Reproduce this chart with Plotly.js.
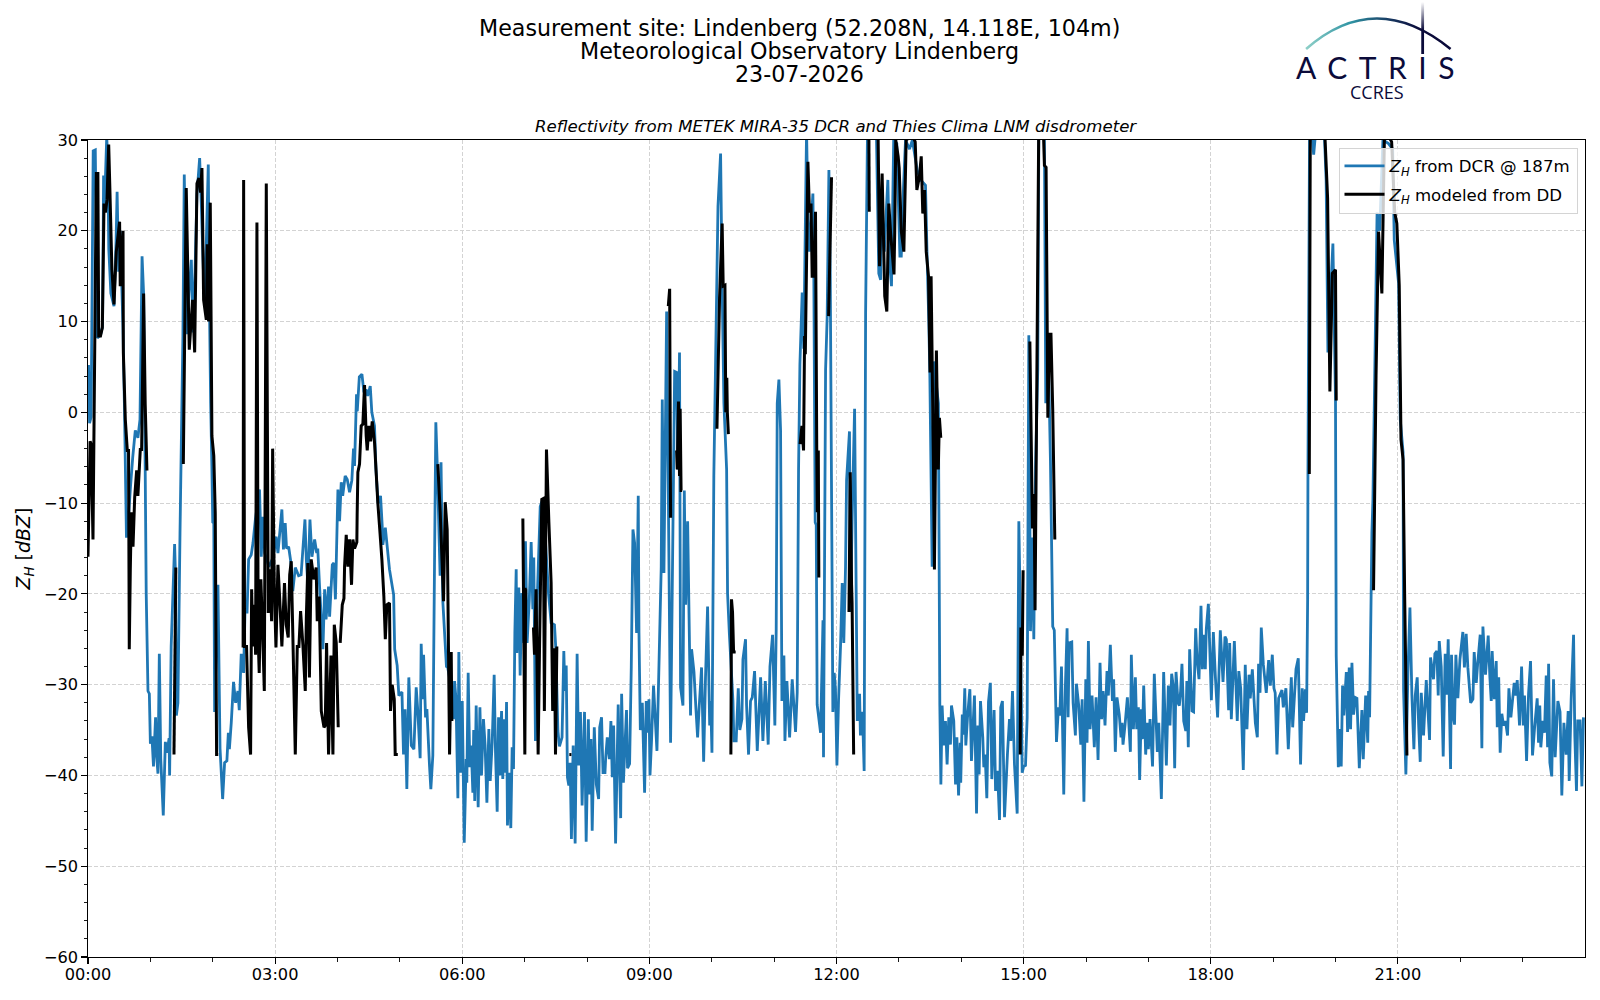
<!DOCTYPE html>
<html>
<head>
<meta charset="utf-8">
<script src="https://cdn.plot.ly/plotly-3.0.1.min.js"></script>
<style>html,body{margin:0;padding:0;background:#fff}#chart{width:1600px;height:1000px}</style>
</head>
<body>
<div id="chart"></div>
<script>
// Each pair is [minutes after midnight, reflectivity in dBZ].
const dcrNight = [[0,1],[0.5,5.2],[1.5,-1.2],[3,-0.5],[5,28.8],[7,28.9],[9,8.2],[12,8.5],[14,9.5],[15,26.1],[16,23],[18,30.3],[19,28],[20,18],[22,13.1],[25,11.7],[27,18.8],[28,24.3],[29.5,15.5],[31,20],[32,16],[33.6,9.5],[35,1],[37,-13.8],[39,-11.5],[41,-8],[43,-5],[45.5,-2],[48,-2.8],[50,-0.8],[52,17.2],[53.5,13],[55,-6],[56,-20],[57.7,-30.7],[59,-31],[60,-36.5],[61.5,-35.7],[63,-39],[65,-33.6],[66,-37.8],[67.3,-39.8],[68.6,-26.6],[70,-38.2],[72.4,-44.4],[74.4,-36.3],[76,-37.5],[78,-35.9],[78.5,-40],[80,-25.8],[83.3,-14.5],[84,-17.3],[85,-33.4],[86.5,-32],[88.5,-13.3],[91.3,8.4],[92.6,26.2],[95,8.6],[97,13],[99.4,16.8],[101,8.8],[103,15.7],[104.8,24],[107.4,28],[109,23],[110.6,17],[112,12.4],[113.8,18.6],[115.7,27.3],[117,10.2],[118,1],[119.2,-6.3],[120,-12.1],[121,-12.2],[121.8,-33],[125,-19],[127,-37],[129.5,-42.6],[131.4,-38.6],[133.6,-38.4],[135,-35.3],[136,-37.1],[137.8,-34.2],[140,-29.7],[142,-32],[144.2,-30.7],[145.5,-32.8],[147.4,-26.6],[149.7,-28.7],[151,-22],[153,-22],[154.5,-16.2],[157,-15.7],[158.7,-14.4],[161,-11.8],[165,-8.5],[166.7,-15.9],[168,-11.5],[170,-15.5],[174,-17],[178,-16],[181,-13.7],[182.7,-15.5],[186.5,-10.7],[188,-15.1],[189.7,-12.2],[191,-15],[193,-14.8],[195,-16.4],[197,-19.7],[199.4,-17.1],[202.6,-18],[205,-17.9],[208.7,-11.8],[210,-16.2],[211.5,-19],[213.5,-11.8],[215.4,-15.9],[218,-14],[220,-15.5],[221,-15],[222.8,-19.3],[226,-26.1],[227.6,-19.5],[229,-22.8],[231.4,-19.2],[232.4,-22.5],[235,-16.8],[236.5,-16.6],[238,-20.6],[240.4,-8.5],[242,-12],[243.6,-7.7],[245,-9.2],[247.4,-7],[249.4,-7.4],[251.6,-8.8],[253.8,-7.5],[255.4,-4],[256.4,-5.9],[258.3,2],[259,0.1],[261,3.9],[263.5,4.2],[265.4,2.2],[267.6,2.5],[269,1.8],[271.5,2.9],[273,0],[275.6,-1.5],[277,-6.3],[279,-10],[281.4,-9.2],[283,-12.5],[283.6,-14.6],[286,-12.7],[290,-17.3],[294,-20.1],[295,-26.1],[297.4,-27.9],[299,-31.2],[302,-30.8],[303.5,-37.7],[305,-32.7],[306.7,-41.5],[308.6,-29.2],[311,-36.7],[313.5,-37.1],[315.7,-30.3],[317.3,-33],[319.5,-38.1],[320.5,-25.5],[322,-31.6],[322.8,-26.7],[324.7,-33.6],[326,-32.7],[328.5,-38.9],[329.8,-41.5],[331.7,-37.8],[333.3,-17],[334.6,-1.1],[336,-6],[338.7,-18],[339.6,-5.5],[341.3,-20.8],[344.8,-28],[346,-28.1],[349,-30],[351.6,-33.8],[352.6,-29.6],[354,-31.6],[355.8,-42.5],[356.7,-26.4],[358.3,-39.7],[360,-31.8],[361.9,-47.4],[363.8,-38.2],[364.4,-40.8],[365.7,-28.7],[367.3,-39.1],[368.6,-36.7],[370.2,-41.9],[371,-35],[372,-42.8],[373.4,-32.3],[375.3,-43.5],[377,-32.5],[378.5,-40],[380.4,-33.8],[382,-36.7],[383.7,-43],[385.6,-34.9],[386.9,-40.6],[388.8,-36.4],[390.7,-28.9],[392,-37.5],[393.6,-44],[394.9,-33.6],[396.2,-40],[397.8,-32.9],[399,-40.4],[400.3,-33.8],[401.6,-39.7],[402.6,-31.9],[403.5,-45.5],[405,-39.7],[406.7,-45.8],[408,-36.9],[409.3,-39.3],[410.6,-24.3],[411.9,-17.3],[412.5,-26.5],[414.4,-19.3],[415.7,-29],[417.3,-19.9],[419.2,-25.4],[420.8,-14.2],[422.4,-25.4],[424.5,-20.6],[426.3,-14.3],[427.9,-21.7],[428.8,-16],[430.4,-36.2],[432,-21],[435,-10.4],[436,-10],[437.5,-9.6],[441,-16],[443,-20],[445.5,-23.2],[448.7,-23.4],[450,-26],[452,-35.1],[453.5,-36.8],[456,-35.8],[457.7,-26.3],[458.7,-30.7],[460,-27.9],[461.2,-40.2],[462.5,-41.1],[463.8,-38.6],[465,-47],[466.7,-36.7],[468.6,-47.5],[470.5,-26.6],[472,-38.9],[473.7,-33],[475.3,-43.3],[477.6,-33],[479.2,-47.3]];
const dcrMorning = [[481.3,-33.8],[482.5,-42.1],[483.8,-36],[485,-46.1],[487,-34.7],[489,-41],[491.2,-42.6],[492.2,-34.7],[494,-33.6],[495.4,-39.7],[497.3,-39.7],[498,-38],[499.5,-35.8],[501.5,-38.2],[503,-34],[504.3,-40.2],[505.6,-34.5],[507.5,-47.5],[510,-32.2],[512.4,-44.7],[513.3,-31],[515,-40.8],[518,-32.8],[519,-39.2],[521,-38.7],[522.6,-28],[524.2,-12.9],[525.8,-14.4],[527.7,-24.3],[529.3,-9.2],[530,-24.3],[531.3,-35],[533.2,-32],[535.4,-41.9],[537,-31.8],[538.3,-35.3],[539.6,-31.6],[540.6,-40],[542,-36.4],[544,-30.1],[547.3,-37.3],[549,-29],[551.4,-17],[552.4,1.4],[554,-17.7],[556.6,11.1],[558,-6],[560.4,-36.4],[564.3,4.5],[566.2,4.4],[567.5,-6.3],[569,6.6],[570,-30.3],[572.3,-32.3],[573.6,-8.6],[574.9,-21.2],[576.8,-12],[578,-21.2],[579.6,-33.4],[580.6,-26.1],[582.9,-28.6],[584.8,-32.7],[586.4,-35.8],[587.7,-32.9],[590.2,-28.1],[592.2,-38.5],[594,-29.2],[596,-21.4],[598,-34.5],[599,-31.8],[600.2,-37.5],[602,-7],[606,22.7],[608.5,28.5],[610,13.9],[611.7,1],[614.3,-6.3],[615.2,-19.9],[617,-24.5],[620.4,-31.8],[621.3,-36.2],[623.5,-36.2],[625.5,-30.4],[627,-35],[629,-33.8],[630,-27.2],[632.5,-25],[633.5,-32.3],[635.4,-37.7],[637.3,-31.8],[639,-31.4],[641.2,-28.5],[643.8,-37.3],[647,-29.2],[649.2,-36.2],[651.5,-29.6],[654.3,-36.6],[656,-28],[658.5,-24.5],[660.7,-34.5],[662,-24],[663,1],[664.6,3.6],[666.2,-2],[667.5,-31.8],[669.4,-26.8],[670.4,-36.2],[672.3,-29.6],[674.9,-35.8],[677.4,-29.4],[680.6,-35.2],[682.2,-30.9],[683.5,-6.3],[684.8,5.3],[687,13.2],[688.5,7],[691.2,31],[692.5,22],[694,17.7],[697.3,24.1],[698.2,15],[699.5,-12.1],[700.5,-12.4],[701.4,-32.2],[704.7,-35.3],[707,-22.9],[707.5,-38],[709.5,4.7],[711,10.4],[712.7,26.7],[714,15],[716.5,-33],[717.8,-28.7],[719,-30.5],[720.4,-38.9],[722,-31.6],[723.9,-25.7],[725.5,-18.8],[727,-25.4],[728.7,-17],[729.7,-7.5],[732.5,-2.1],[733.5,-22],[735,-12],[737.4,0.4],[740,-34],[742.2,-31],[743,-35.6],[745,-33],[746.6,-39.5],[748,11],[750,33],[753,34],[758.5,30],[760.7,15.3],[762.5,14.6],[763.5,23],[766,17.7],[769.4,25.6],[771,16.6],[772.9,13.9],[775,30],[778,29.6],[781,17.2],[782.3,17.2],[784.5,24.9],[786.4,30],[790.2,29],[793,30],[797.6,26.7],[801,25.6],[805.6,25],[807,17.9],[808.8,9.9],[809.8,4],[812,-17],[813.6,5.6],[818,1],[819.4,-32.3],[820.4,-41],[821.6,-32.3],[823.2,-36.7],[824.8,-34],[826.4,-38.8],[828,-33.6],[829.6,-36.6],[830.6,-32.3],[832.8,-34],[834.5,-41],[835.8,-35.8],[837.4,-42.2],[839,-36.4],[839.5,-40.8],[841,-33.3],[842,-35.5],[843.4,-30.4],[844.4,-36.7],[846,-33.6],[848.3,-30.5],[849.8,-38.4],[852.7,-31.2],[854.7,-44.2],[856,-34.5],[857.2,-39.9],[858.5,-31.8],[860.7,-35.8],[861.7,-39.1],[863,-37.7],[864.6,-42.5],[866.2,-31.9],[868,-29.8],[869.4,-40.4],[871.6,-32.8],[873,-41.7],[874.9,-39.5],[876.8,-44.9],[878,-32.5],[879.6,-31.8],[881.6,-44.6],[884.5,-37.5],[886.4,-33.8],[887.7,-36.2],[889.3,-30.7],[891.2,-38.8],[893.8,-44.2],[895.4,-12],[897,-23.6],[898.6,-39.7],[900,-39],[901.8,-38.9],[903.4,-33.6],[905,8.5],[906.6,-24.1],[908.5,-13.8],[909.8,-25],[911.5,-6],[913.6,4.7],[914.6,30],[918,33],[920,30],[921.3,1],[923.5,8],[925.8,-5.3],[928,-23.6],[929.5,-24],[931.6,-36.3],[933.5,-32.5],[934.8,-33.4],[936.4,-28],[938.6,-42.1],[940.2,-30.1],[941.8,-23.8],[942.8,-33.6],[943.8,-25.4],[946.3,-25.3],[947.6,-32],[949.8,-35.6],[950.8,-29.9],[953,-32.3],[955,-36.6],[956.3,-31.6],[958,-42.9],[959.8,-29.4]];
const dcrAfternoon = [[961,-36.4],[962.3,-25.2],[963.9,-34.9],[965.8,-31.2],[968,-36.9],[969.7,-31.4],[971.6,-38.3],[973.5,-27.6],[975,-33.8],[976.4,-30.7],[978.3,-34.5],[980.2,-28.5],[981.5,-31.2],[983.4,-25.6],[985.4,-31.8],[986.6,-29.4],[988.2,-37.4],[989.8,-31.4],[992,-33.3],[993.7,-35.8],[994.7,-34.2],[995.6,-36.6],[997.5,-34.5],[999.8,-31.4],[1002.7,-37.4],[1003.6,-26.7],[1005.6,-34.9],[1007.5,-29.2],[1008.8,-34.9],[1010.4,-32.5],[1011.6,-40.5],[1013.2,-32.7],[1014.2,-36],[1015.5,-30.1],[1017.4,-37.7],[1019,-34.2],[1020,-37.1],[1021.6,-33.8],[1024,-39],[1025.7,-28.8],[1028.6,-37.4],[1030,-34.2],[1032.5,-42.6],[1034.7,-28.6],[1037.3,-38.9],[1039.2,-30.1],[1040.8,-34.5],[1042.4,-28.8],[1044,-30.2],[1045.3,-39.2],[1046.6,-28.6],[1048.5,-32],[1049.8,-32.3],[1051,-30.7],[1052.3,-27.7],[1054,-34],[1056,-35.1],[1057,-29.6],[1058.4,-36.9],[1059.7,-26.1],[1062,-32.9],[1063.5,-33],[1065.5,-23.8],[1066.8,-27.2],[1068.7,-29.4],[1070.6,-21.3],[1071.9,-28.3],[1073.5,-24.5],[1074.8,-28.3],[1075.7,-23.9],[1077.7,-21.1],[1079,-25.8],[1080.6,-31.7],[1082.5,-24.2],[1084.4,-29],[1086.6,-33.6],[1089.2,-24],[1091.8,-29.7],[1093.7,-24.7],[1095,-25],[1097.2,-32.8],[1098.2,-25.4],[1099.8,-33.8],[1102.7,-25.2],[1105.5,-34],[1107,-28.5],[1108.8,-30.4],[1111.3,-39.4],[1113.2,-27.8],[1114.8,-34.9],[1116.8,-28.9],[1118,-31.5],[1120,-28.3],[1122.9,-34.2],[1124.8,-35.8],[1126,-27.7],[1127.4,-30.9],[1128.6,-23.7],[1130.6,-27.8],[1133.4,-30.9],[1135.7,-27.3],[1137.3,-30.1],[1139.2,-26.7],[1140.8,-30.4],[1142,-30.9],[1143.7,-37.7],[1145.3,-31.5],[1148.5,-30.6],[1149.8,-32.5],[1152.3,-30.4],[1154.6,-37.1],[1157.5,-29.2],[1158.8,-34.7],[1162,-28.3],[1164.2,-27.1],[1166.4,-38.8],[1168,-30.4],[1169.3,-34],[1171,-30.5],[1172.2,-33.1],[1173.2,-20.6],[1173.5,-6.6],[1175,30],[1177,31],[1179,28.4],[1181,31],[1188,32],[1189.5,30],[1191,25.6],[1192.7,6.6],[1197.5,18.6],[1200,1.4],[1200.7,-26.8],[1202.7,-39.1],[1204,-34.9],[1205.5,-39],[1206.8,-30.1],[1208,-33.4],[1210.4,-28.6],[1211.6,-35.2],[1213.2,-28.1],[1214.5,-34.9],[1215.8,-27.6],[1217.4,-33.3],[1219,-31.4],[1220.6,-31.5],[1222.9,-39.2],[1225.4,-32.8],[1226.7,-38.2],[1229,-31.2],[1231,-36.4],[1231.8,-30.7],[1232.8,-33.6],[1235,-13.3],[1236,-9.6],[1240,22],[1242.5,20],[1245.6,30],[1251,29.6],[1255,29],[1256.5,19],[1260.7,14.2],[1262.3,-0.8],[1265,-4.4],[1265.5,-30.7],[1267.7,-39.9],[1269.7,-28.5],[1271.6,-21.5],[1273.5,-31.2],[1275.4,-37.1],[1276.7,-31.2],[1278.6,-29.2],[1280,-34.5],[1281.5,-38.5],[1282.5,-30.9],[1284.7,-35.6],[1287.3,-29.5],[1290.5,-36.1],[1291.4,-27],[1294.3,-29.4],[1295.6,-26.6],[1297.5,-26.3],[1298.8,-31.2],[1299.8,-25.2],[1301.7,-28],[1303.6,-37.9],[1305.5,-26.6],[1307,-31.1],[1308.4,-25],[1310.7,-39.3],[1311.6,-26.7],[1313.2,-33.5],[1314.5,-34.4],[1315.8,-26.7],[1317.7,-31.5],[1319.7,-27.2],[1322.5,-24.2],[1324,-28.1],[1325.7,-24.4],[1327.3,-28.1],[1330,-32],[1332.2,-31.6],[1333.4,-26.4],[1335.4,-29.8],[1336.7,-27.8],[1339.2,-24.5],[1340.8,-37],[1341.8,-23.6],[1344.3,-28.9],[1346.9,-24.6],[1348.5,-29.2],[1349.8,-31.8],[1350.7,-26.3],[1352.7,-31.6],[1354.6,-27.4],[1355.6,-34.7],[1357,-29.2],[1358.4,-37.5],[1360,-33.2],[1361.6,-34.5],[1363.5,-34],[1365.5,-35.6],[1366.8,-30.4],[1368.7,-33.6],[1371.9,-29.8],[1373.5,-31.2],[1374.8,-29.5],[1377,-34.5],[1379,-28],[1380.6,-34.5],[1381.8,-31.2],[1383.8,-38.4],[1385.7,-31],[1387.6,-27.4],[1389.5,-37.8],[1391.4,-34.9],[1394,-31.5],[1395.3,-36.4],[1396.5,-32.3],[1397.5,-36.9],[1399.5,-34],[1401,-35.3],[1402.7,-29],[1404,-36.9],[1405,-27.7],[1406.2,-38.6],[1408,-40.1],[1409.7,-29.4],[1411.3,-38],[1413.9,-31.8],[1416,-33],[1417.7,-42.2],[1419.7,-34.2],[1421.9,-37.7],[1423.8,-32.9],[1424.8,-40.6],[1426.7,-31.6],[1429,-24.5],[1430.2,-35.6],[1431.8,-41.7],[1433,-34],[1435.3,-34],[1437,-41.2],[1438.5,-33.6]];

const ddEventA = [[0,-15.9],[2,-3.2],[3,-3.5],[4.8,-14],[8,26.3],[9.5,26.3],[10.3,8.4],[12,8.4],[13.8,9.3],[15.4,23],[16.7,22],[18.3,23.4],[19.9,29.5],[21,24.8],[23,15.7],[25,11.9],[27.2,17.7],[30.4,21],[31,13.9],[33.7,20],[34,6.6],[35.9,-0.8],[37.8,-4.2],[39,-4.2],[39.7,-26.1],[40.7,-17.3],[41.7,-11],[43.3,-14.8],[44.9,-9.4],[46.8,-6.4],[48,-9.2],[50.3,-4.1],[51.6,-4.1],[53.5,13.1],[55,1],[56.7,-6.4]];
const ddEventB = [[82.7,-37.7],[84.5,-17.1]];
const ddEventC = [[91.7,-5.7],[94.5,24.7],[97.4,6.9],[100.6,12.4],[102.6,6.6],[104.8,25.2],[106.7,25.8],[108.3,24.2],[109.6,26.9],[111.2,12.4],[113.8,10.2],[114.7,18.5],[116,10],[117.6,23.1],[119.2,-2.6],[121,-4.8],[122.4,-11.1],[123.7,-37.7],[125.3,-37.7]];
const ddEventD = [[149.2,-25.9],[149.7,25.6],[150.6,-25.8],[152.5,-25.8],[154.5,-34.7],[156.4,-37.7],[157.4,-19.5],[158.7,-25.8],[160.3,-21.2],[161.2,-26.7],[162.5,20.9],[163.7,-25],[164.7,-28.7],[166.3,-18.4],[168,-24.3],[169.6,-30.7],[171.5,25.2],[173.4,-22.1],[175,-17.3],[176.6,-23],[177.6,-4],[179.2,-19.2],[180.8,-25.9],[182.7,-16.8],[184.3,-20.3],[186.5,-25.8],[189,-18.8],[190.7,-23.4],[192.6,-24.8],[194,-17.9],[195.5,-16.4],[197,-24.3],[199.4,-37.7],[201.3,-25.8],[202.9,-25.8],[204.5,-21.9],[206.7,-25.6],[209,-30.7],[210,-22.7],[211.5,-16.6],[213,-29.2],[214.7,-16.2],[217.3,-18.4],[219.5,-17.1],[220.5,-23],[222.4,-20.3],[224.4,-32.9],[227,-34.7],[228.2,-34.5],[229.5,-25.4],[231.4,-37.7],[233.7,-26.8],[235.6,-37.7],[236.9,-23.4],[238.8,-25.4],[240.7,-34.7]];
const ddEventE = [[242.6,-25.4],[244.6,-21.2],[246.2,-20.5],[246.8,-17],[248.4,-13.5],[250,-17],[251.6,-14],[253.5,-19],[254.8,-14],[256.4,-15],[258.6,-14.3],[258.9,-11.3],[259.6,-6.6],[261.2,-5.7],[262.8,-1.5],[264.4,-1.3],[266,3],[267.6,-2.6],[268.6,-4.2],[270.2,-1.5],[271.8,-3.2],[273.4,-1],[275.6,-3.3],[278.8,-10],[280.4,-12.5],[282.7,-16.2],[284.6,-20.3],[286,-25],[287.5,-21.2],[290,-21],[291,-32.9],[292.6,-30],[294.6,-31.6],[295.5,-37.7],[298,-37.7]];
const ddEventF = [[336.5,-5.7],[338.8,-11],[342,-20.8],[343.6,-9.9],[345.5,-12.9],[346.2,-20],[347.8,-37.7],[349.4,-26.4],[350,-34]];
const ddEventG = [[418.3,-11.7],[420.2,-37.7],[421,-19.5],[422,-19.5]];
const ddEventH = [[428.5,-23.7],[429.5,-26.7],[431,-19.5],[433,-37.7],[434.3,-26.3],[436.5,-9.6],[438,-9.5],[439,-32.9],[441,-4.1],[443.3,-12],[445.5,-18.8],[447,-32.9],[448.7,-26],[449.7,-37.7],[451,-25.8]];
const ddEventI = [[463,-37.7],[465,-37.7]];
const ddEventJ = [[558.2,11.7],[559.5,13.6],[560.4,-11.6]];
const ddEventK = [[566.2,-4.2],[566.8,-6.3],[568,1.2],[569,-7],[569.6,0.4],[570.5,-8.6],[571.5,-8.6]];
const ddEventL = [[605,-1.8],[607.5,12.6],[610,20.8],[611,13.9],[612.7,14],[613.5,0],[614.5,3.8],[615,0],[616,-2.4]];
const ddEventM = [[618.4,-37.7],[619,-20.6],[620,-22],[621,-26.4],[623,-26.4]];
const ddEventN = [[685,-3.5],[686.7,-1.5],[688.3,-4.2],[689.3,8.4],[690,6.4],[692.5,27.6],[694,22],[695.5,23],[696.6,15],[698,15],[699.8,22.1],[701,-4],[701.5,-11],[702.5,-4.2],[703,-18.2]];
const ddEventO = [[712.4,10.6],[715.2,25.9]];
const ddEventP = [[732,-22],[733.2,-6.6],[734.5,-19],[735,-21],[736.5,-37.7]];
const ddEventQ = [[751,34],[751.5,22.1]];
const ddEventR = [[760,31],[761.4,16.1],[763.9,26.3],[766.4,12.8],[768.4,11.1],[770.3,23],[772,19.8],[775.3,15.2],[776,19.8],[777,30],[779.3,28.2],[780.3,26.9],[782.3,20],[784.8,17.7],[787,30],[793,30.5],[795.7,29.8],[797.3,24.5],[799.8,26],[801.5,28.2],[803,21.9],[804.7,24.5],[806.3,17.7],[808.5,15],[810,4.4],[811,15],[813.3,-6.3],[814.2,-17.3],[816.1,6.8],[817.9,-6.3],[819,-0.6],[820.3,-2.8]];
const ddEventS = [[896.7,-37.7],[897.4,-23.7],[898.7,-26.8],[899.5,-17.4]];
const ddEventT = [[906,7.8],[908.5,-12.8],[910,-9],[911,-21.8],[913,8],[914.5,31],[917,33],[919,31],[920,27.2],[921.6,27],[923.3,-0.6],[925,8.6],[926.3,8.6],[928,0.3],[930,-14]];
const ddEventU = [[1174.8,-6.8],[1175.7,30],[1180,33],[1188,33],[1190,30],[1191.8,25.2],[1192.4,23.6],[1194.6,2.3],[1197,15.3],[1200,15.7],[1200.7,1.3]];
const ddEventV = [[1236.6,-19.6],[1239,4],[1241.4,19.9],[1244.6,13.1],[1247,30],[1250,31],[1253,30],[1254,29.8],[1257,22],[1259,20.8],[1261.3,14],[1263,-3],[1265,-5.2],[1266.5,-20],[1268.7,-37.8]];

const seriesNames = ['<i>Z<sub>H</sub></i> from DCR @ 187m', '<i>Z<sub>H</sub></i> modeled from DD'];
const xTickMinutes = [0,180,360,540,720,900,1080,1260];
const xTickLabels = ['00:00','03:00','06:00','09:00','12:00','15:00','18:00','21:00'];
const titleLines = ['Measurement site: Lindenberg (52.208N, 14.118E, 104m)','Meteorological Observatory Lindenberg','23-07-2026'];
const subTitle = 'Reflectivity from METEK MIRA-35 DCR and Thies Clima LNM disdrometer';

const dcrAll = dcrNight.concat(dcrMorning, dcrAfternoon);
const ddGroups = [ddEventA,ddEventB,ddEventC,ddEventD,ddEventE,ddEventF,ddEventG,ddEventH,ddEventI,ddEventJ,ddEventK,ddEventL,ddEventM,ddEventN,ddEventO,ddEventP,ddEventQ,ddEventR,ddEventS,ddEventT,ddEventU,ddEventV];
const ddX = [], ddY = [];
ddGroups.forEach(g => { g.forEach(p => { ddX.push(p[0]); ddY.push(p[1]); }); ddX.push(null); ddY.push(null); });

const L = 88, R = 1585.5, T = 140, B = 957;
const px = v => (v - L) / (R - L);
const py = v => 1 - (v - T) / (B - T);
const FONT = 'DejaVu Sans, sans-serif';
const NAVY = '#0b0b3a';

const logoSvg = '<svg xmlns="http://www.w3.org/2000/svg" width="180" height="60" viewBox="1290 0 180 60">' +
  '<defs><linearGradient id="a" gradientUnits="userSpaceOnUse" x1="1306" y1="0" x2="1420" y2="0">' +
  '<stop offset="0" stop-color="#8fd0c8"/><stop offset="0.4" stop-color="#2f93a3"/><stop offset="0.75" stop-color="#17365f"/><stop offset="1" stop-color="#0b0b3a"/></linearGradient>' +
  '<linearGradient id="b" gradientUnits="userSpaceOnUse" x1="0" y1="2" x2="0" y2="30">' +
  '<stop offset="0" stop-color="#0b0b3a" stop-opacity="0"/><stop offset="1" stop-color="#0b0b3a"/></linearGradient></defs>' +
  '<path d="M1306.5 49 Q1376 -12 1451 49" fill="none" stroke="url(#a)" stroke-width="2.6"/>' +
  '<rect x="1421.7" y="2" width="2.8" height="52" fill="url(#b)"/></svg>';

const annotation = (text, x, y, size, extra) => Object.assign({
  text, xref:'paper', yref:'paper', x:px(x), y:py(y), xanchor:'center', yanchor:'middle',
  showarrow:false, font:{family:FONT, size, color:'#000'}
}, extra || {});

const traces = [
  {x:dcrAll.map(p=>p[0]), y:dcrAll.map(p=>p[1]), name:seriesNames[0], legendgroup:'dcr', type:'scatter', mode:'lines',
   line:{color:'#1f77b4', width:2.8, simplify:false}},
  {x:ddX, y:ddY, name:seriesNames[1], legendgroup:'dd', type:'scatter', mode:'lines', connectgaps:false,
   line:{color:'#000000', width:3, simplify:false}}
];

const layout = {
  width:1600, height:1000, autosize:false,
  paper_bgcolor:'#fff', plot_bgcolor:'#fff',
  margin:{l:L, r:1600-R, t:T, b:1000-B, pad:0},
  font:{family:FONT, size:16.2, color:'#000'},
  showlegend:true,
  legend:{x:px(1578), xanchor:'right', y:py(147.5), yanchor:'top', bgcolor:'rgba(255,255,255,0.8)',
          bordercolor:'#d4d4d4', borderwidth:1, font:{family:FONT, size:16.6, color:'#000'},
          tracegroupgap:4, itemwidth:40},
  xaxis:{range:[0,1440], tickmode:'array', tickvals:xTickMinutes, ticktext:xTickLabels, ticks:'outside', ticklen:5.5, tickwidth:1.1,
         tickcolor:'#000', showline:true, linecolor:'#000', linewidth:1.2, mirror:true, zeroline:false,
         showgrid:true, gridcolor:'#d3d3d3', griddash:'4px,2px', gridwidth:1, tickfont:{family:FONT,size:16.2}, ticklabelstandoff:-3,
         minor:{tickmode:'array', tickvals:[60,120,240,300,420,480,600,660,780,840,960,1020,1140,1200,1320,1380], ticks:'outside', ticklen:3.3, tickcolor:'#000', tickwidth:0.9, showgrid:false}},
  yaxis:{range:[-60,30], tick0:-60, dtick:10, ticks:'outside', ticklen:5.5, tickwidth:1.1,
         tickcolor:'#000', showline:true, linecolor:'#000', linewidth:1.2, mirror:true, zeroline:false,
         showgrid:true, gridcolor:'#d3d3d3', griddash:'4px,2px', gridwidth:1, tickfont:{family:FONT,size:16.2},
         title:{text:'<i>Z<sub>H</sub></i> [<i>dBZ</i>]', font:{family:FONT,size:19}, standoff:8},
         minor:{dtick:2, tick0:-60, ticks:'outside', ticklen:3.3, tickcolor:'#000', tickwidth:0.9, showgrid:false}},
  images:[{source:'data:image/svg+xml;utf8,'+encodeURIComponent(logoSvg), xref:'paper', yref:'paper',
           x:px(1290), y:py(0), sizex:180/(R-L), sizey:60/(B-T), sizing:'stretch', xanchor:'left', yanchor:'top', layer:'above'}],
  annotations:[
    annotation(titleLines[0], 800, 28, 22.2),
    annotation(titleLines[1], 800, 51, 22.2),
    annotation(titleLines[2], 800, 74, 22.2),
    annotation('<i>'+subTitle+'</i>', 836, 126, 16.6),
    annotation('<span style="letter-spacing:11.5px">ACTRIS</span>', 1381, 66.5, 30, {font:{family:'Lato, Open Sans, sans-serif', size:30, color:NAVY}}),
    annotation('CCRES', 1377, 92, 18, {font:{family:'Open Sans, sans-serif', size:18, color:NAVY}})
  ]
};

Plotly.newPlot('chart', traces, layout, {staticPlot:true, displayModeBar:false});
</script>
</body>
</html>
